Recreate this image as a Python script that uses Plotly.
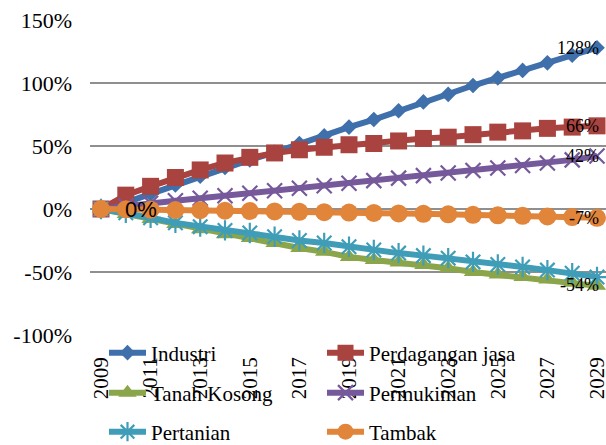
import plotly.graph_objects as go

years = list(range(2009, 2030))
tick_years = years[::2]
tick_text = [str(y) for y in tick_years]

industri = [0, 5, 12, 19, 26, 33, 39, 45, 52, 58, 65, 71, 78, 85, 91, 98, 104, 110, 116, 122, 128]
perdagangan = [0, 11, 18, 25, 31, 36.5, 41, 44.5, 47, 49, 51, 52, 54, 56, 57, 59, 61, 62, 64, 65, 66]
tanah_kosong = [0, -4, -8, -12, -16, -20, -23, -27, -31, -34, -38, -40.5, -42.5, -44.5, -47, -50, -52, -54, -56, -58.5, -61]
permukiman = [0, 2.5, 4.5, 6.5, 8.5, 10.5, 12.5, 14.5, 16.5, 18.5, 20.5, 22.5, 24.5, 26.5, 28.5, 30.5, 32.5, 34.5, 36.5, 39, 42]
pertanian = [0, -3, -7, -11, -14, -17, -19, -22, -25, -27, -30, -32.5, -35, -37, -39, -42, -44, -46, -48.5, -51, -54]
tambak = [0, -0.2, -0.5, -0.8, -1, -1.3, -1.6, -1.9, -2.2, -2.5, -2.8, -3.1, -3.5, -3.8, -4.2, -4.6, -5, -5.4, -5.9, -6.4, -7]

y_ticks = [-100, -50, 0, 50, 100, 150]
y_text = ["-100%", "-50%", "0%", "50%", "100%", "150%"]

SERIF = "Liberation Serif, Times New Roman, Times, serif"

series = [
    ("Industri", industri, "#3F70AB", dict(symbol="diamond", size=12), "legend"),
    ("Perdagangan jasa", perdagangan, "#A8433F", dict(symbol="square", size=17), "legend"),
    ("Tanah Kosong", tanah_kosong, "#8BA64A", dict(symbol="triangle-up", size=16), "legend2"),
    ("Permukiman", permukiman, "#76599B", dict(symbol="x-thin", size=15), "legend2"),
    ("Pertanian", pertanian, "#3F9DB8", dict(symbol="asterisk", size=17), "legend3"),
    ("Tambak", tambak, "#E1853A", dict(symbol="circle", size=18), "legend3"),
]

fig = go.Figure()
for name, vals, color, mk, leg in series:
    marker = dict(symbol=mk["symbol"], size=mk["size"], color=color)
    if mk["symbol"] in ("x-thin", "asterisk"):
        marker["line"] = dict(color=color, width=2.2)
    else:
        marker["line"] = dict(width=0)
    fig.add_trace(go.Scatter(
        x=years, y=vals, name=name, mode="lines+markers",
        line=dict(color=color, width=6),
        marker=marker, legend=leg,
    ))

# end-point data labels
end_labels = [
    (industri, "128%", 0),
    (perdagangan, "66%", 0),
    (permukiman, "42%", 0),
    (tambak, "-7%", 0),
    (pertanian, "-54%", -8),
]
for vals, txt, ys in end_labels:
    fig.add_annotation(x=years[-1], y=vals[-1], text=txt, showarrow=False,
                       xanchor="right", yanchor="middle", xshift=4, yshift=ys,
                       font=dict(family=SERIF, size=18, color="black"))
fig.add_annotation(x=years[1] + 0.6, y=tambak[0], text="0%", showarrow=False,
                   xanchor="center", yanchor="middle",
                   font=dict(family="Liberation Sans, Arial, sans-serif", size=22, color="black"))

W, H = 606, 445
L, R, T, B = 90, 0, 20, 110
pw = W - L - R
ph = H - T - B

def px_x(p):
    return (p - L) / pw

def px_y(p):
    return (H - B - p) / ph

leg_common = dict(orientation="h", xanchor="left", yanchor="middle",
                  font=dict(family=SERIF, size=21, color="black"),
                  bgcolor="rgba(0,0,0,0)", itemwidth=37, entrywidth=166,
                  entrywidthmode="pixels", tracegroupgap=0, itemclick=False)
fig.update_layout(
    width=W, height=H,
    margin=dict(l=L, r=R, t=T, b=B, autoexpand=False),
    paper_bgcolor="white", plot_bgcolor="white",
    font=dict(family=SERIF, size=21, color="black"),
    showlegend=True,
    legend=dict(x=px_x(104), y=px_y(353), **leg_common),
    legend2=dict(x=px_x(104), y=px_y(393), **leg_common),
    legend3=dict(x=px_x(104), y=px_y(432), **leg_common),
    xaxis=dict(range=[2009 - 11 / 24.8, 2029 + 9 / 24.8], tickvals=tick_years, ticktext=tick_text,
               tickangle=-90, showgrid=False, zeroline=False, showline=False, ticks="",
               tickfont=dict(family=SERIF, size=21, color="black"), ticklabelstandoff=17,
               ticklabeloverflow="allow"),
    yaxis=dict(range=[-100, 150], tickvals=y_ticks, ticktext=y_text, showgrid=True,
               gridcolor="#8F8F8F", gridwidth=1.6, zeroline=False, showline=False, ticks="",
               tickfont=dict(family=SERIF, size=22, color="black"), ticklabelstandoff=17),
)

fig.write_html("out.html", config={"displayModeBar": False},
               post_script="document.body.style.margin='0';document.body.style.overflow='hidden';")
